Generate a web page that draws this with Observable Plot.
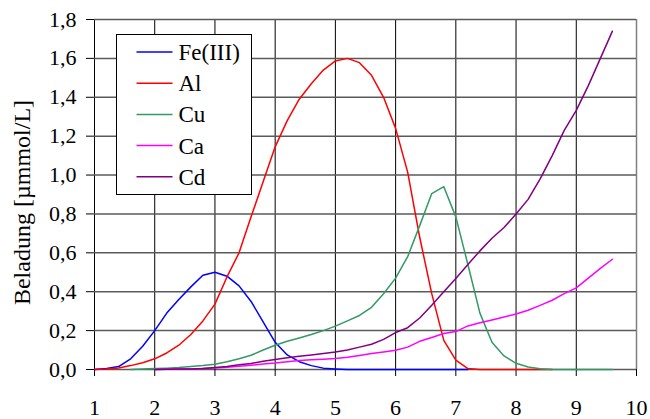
<!DOCTYPE html>
<html><head><meta charset="utf-8">
<script src="https://cdn.jsdelivr.net/npm/d3@7"></script>
<script src="https://cdn.jsdelivr.net/npm/@observablehq/plot@0.6"></script>
<style>
body{margin:0;background:#fff;}
#chart{position:relative;width:650px;height:419px;}
</style></head><body><div id="chart"></div>
<script>
const seriesNames = ["Fe(III)", "Al", "Cu", "Ca", "Cd"];
const seriesColors = ["#0000ff", "#ff0000", "#339966", "#ff00ff", "#800080"];

const feX = [1.0,1.2,1.4,1.6,1.8,2.0,2.2,2.4,2.6,2.8,3.0,3.2,3.4,3.6,3.8,4.0,4.2,4.4,4.6,4.8,5.0,5.2,5.4,5.6,5.8,6.0,6.2,6.4,6.6,6.8,7.0,7.2];
const feY = [0,0.005,0.015,0.055,0.12,0.2,0.29,0.36,0.425,0.485,0.5,0.48,0.43,0.35,0.245,0.14,0.075,0.04,0.02,0.007,0.003,0,0,0,0,0,0,0,0,0,0,0];

const alX = [1.0,1.2,1.4,1.6,1.8,2.0,2.2,2.4,2.6,2.8,3.0,3.2,3.4,3.6,3.8,4.0,4.2,4.4,4.6,4.8,5.0,5.2,5.4,5.6,5.8,6.0,6.2,6.4,6.6,6.8,7.0,7.2,7.4,7.6,7.8,8.0,8.2,8.4,8.6];
const alY = [0,0.002,0.008,0.02,0.035,0.055,0.085,0.125,0.18,0.25,0.336,0.476,0.6,0.785,0.965,1.145,1.28,1.39,1.47,1.54,1.587,1.6,1.578,1.513,1.4,1.24,1.015,0.68,0.39,0.15,0.048,0.005,0,0,0,0,0,0,0];

const cuX = [1.6,1.8,2.0,2.2,2.4,2.6,2.8,3.0,3.2,3.4,3.6,3.8,4.0,4.2,4.4,4.6,4.8,5.0,5.2,5.4,5.6,5.8,6.0,6.2,6.4,6.6,6.8,7.0,7.2,7.4,7.6,7.8,8.0,8.2,8.4,8.6,8.8,9.0,9.2,9.4,9.6];
const cuY = [0,0.002,0.005,0.007,0.01,0.015,0.02,0.027,0.04,0.055,0.073,0.1,0.125,0.145,0.162,0.18,0.2,0.223,0.25,0.278,0.32,0.39,0.47,0.58,0.74,0.905,0.94,0.785,0.54,0.29,0.14,0.07,0.032,0.013,0.004,0,0,0,0,0,0];

const caX = [2.0,2.2,2.4,2.6,2.8,3.0,3.2,3.4,3.6,3.8,4.0,4.2,4.4,4.6,4.8,5.0,5.2,5.4,5.6,5.8,6.0,6.2,6.4,6.6,6.8,7.0,7.2,7.4,7.6,7.8,8.0,8.2,8.4,8.6,8.8,9.0,9.2,9.4,9.6];
const caY = [0,0.001,0.002,0.003,0.005,0.008,0.012,0.017,0.022,0.028,0.033,0.04,0.046,0.05,0.053,0.056,0.063,0.072,0.082,0.09,0.099,0.115,0.145,0.165,0.185,0.195,0.224,0.24,0.255,0.27,0.285,0.305,0.33,0.356,0.39,0.42,0.47,0.52,0.567];

const cdX = [2.0,2.2,2.4,2.6,2.8,3.0,3.2,3.4,3.6,3.8,4.0,4.2,4.4,4.6,4.8,5.0,5.2,5.4,5.6,5.8,6.0,6.2,6.4,6.6,6.8,7.0,7.2,7.4,7.6,7.8,8.0,8.2,8.4,8.6,8.8,9.0,9.2,9.4,9.6];
const cdY = [0,0.001,0.002,0.003,0.005,0.01,0.016,0.024,0.031,0.042,0.052,0.06,0.068,0.075,0.082,0.09,0.1,0.115,0.13,0.155,0.19,0.215,0.265,0.33,0.4,0.468,0.54,0.61,0.675,0.73,0.8,0.875,0.98,1.1,1.23,1.333,1.46,1.6,1.74];

const xTicks = [1,2,3,4,5,6,7,8,9,10];
const yTicks = [0,0.2,0.4,0.6,0.8,1.0,1.2,1.4,1.6,1.8];
const yLabel = "Beladung [µmmol/L]";

const seriesData = [[feX, feY], [alX, alY], [cuX, cuY], [caX, caY], [cdX, cdY]];
const rows = [];
seriesData.forEach(([xs, ys], i) => xs.forEach((x, j) => rows.push({x, y: ys[j], s: seriesNames[i]})));

const fmt = d => d3.format(".1f")(d).replace(".", ",");
const FONT = "'Liberation Serif','Times New Roman',serif";

const plot = Plot.plot({
  width: 650, height: 419,
  marginLeft: 94, marginRight: 14, marginTop: 19, marginBottom: 50,
  style: "font-family: 'Liberation Serif','Times New Roman',serif; font-size: 22px; color: #000; background: #fff; overflow: visible;",
  x: {domain: [1, 10]},
  y: {domain: [0, 1.8]},
  color: {domain: seriesNames, range: seriesColors},
  marks: [
    Plot.ruleX(xTicks, {stroke: d => d === 10 ? "#808080" : "#000", strokeWidth: d => d === 10 ? 1.5 : 1}),
    Plot.ruleY(yTicks, {stroke: "#5a5a5a", strokeWidth: 1.5}),
    Plot.axisY(yTicks, {tickSize: 8, tickPadding: 10, tickFormat: fmt, label: null, fontSize: 22, fontFamily: FONT}),
    Plot.axisX(xTicks, {tickSize: 7, tickPadding: 23, tickFormat: d => String(d), label: null, fontSize: 22, fontFamily: FONT}),
    Plot.line(rows, {x: "x", y: "y", z: "s", stroke: "s", strokeWidth: 1.5}),
    Plot.text([yLabel], {frameAnchor: "left", textAnchor: "middle", dx: -72, dy: 8, rotate: -90, fontSize: 24, fontFamily: FONT, fill: "#000"})
  ]
});

// legend box inside plot area
const svg = d3.select(plot);
const lg = svg.append("g").attr("transform", "translate(116.5,34.5)").attr("text-anchor", "start");
lg.append("rect").attr("width", 135).attr("height", 160).attr("fill", "#fff").attr("stroke", "#000").attr("stroke-width", 1);
seriesNames.forEach((name, i) => {
  const cy = 17.5 + i * 31.2;
  lg.append("line").attr("x1", 20).attr("x2", 56).attr("y1", cy).attr("y2", cy)
    .attr("stroke", seriesColors[i]).attr("stroke-width", 1.5);
  lg.append("text").attr("x", 62).attr("y", cy).attr("dy", "0.35em").attr("text-anchor", "start")
    .style("font-family", FONT).style("font-size", "23px").attr("fill", "#000").text(name);
});

document.getElementById("chart").appendChild(plot);
</script>
</body></html>
